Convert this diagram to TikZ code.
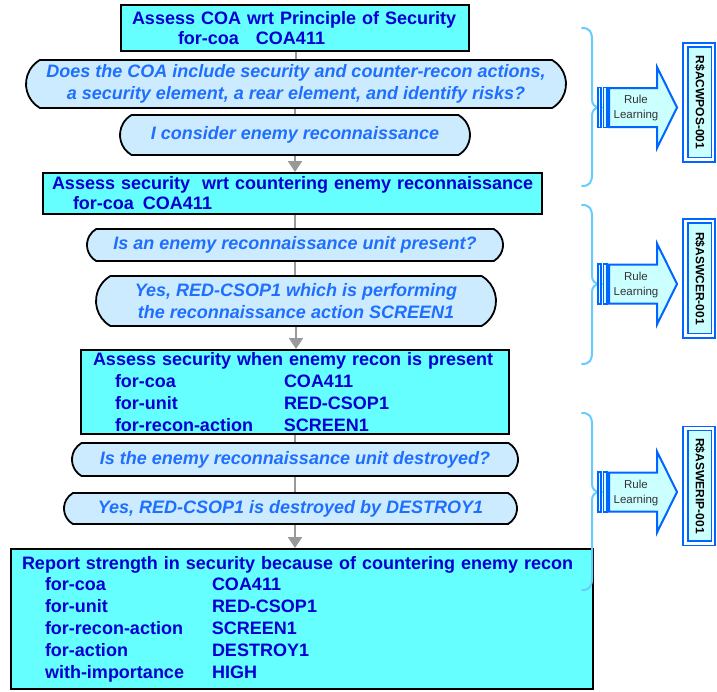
\documentclass[tikz,border=0pt]{standalone}
\usepackage{fontspec}
\setmainfont{Liberation Sans}
\usetikzlibrary{shapes.misc,arrows.meta,calc}
\definecolor{boxfill}{HTML}{66FFFF}
\definecolor{boxtext}{HTML}{0000D0}
\definecolor{qfill}{HTML}{CCEBFF}
\definecolor{qtext}{HTML}{1F6FFF}
\definecolor{conncol}{HTML}{999999}
\definecolor{bracecol}{HTML}{66CCFF}
\definecolor{rulefill}{HTML}{CCFFFF}
\definecolor{ruleline}{HTML}{0066FF}
\tikzset{
  taskbox/.style={draw=black, line width=2pt, fill=boxfill, text=boxtext,
    font=\fontsize{18}{20}\selectfont\bfseries, anchor=north west, inner sep=0pt, align=left},
  qnode/.style={rounded rectangle, rounded rectangle arc length=120, draw=black, line width=1.8pt,
    fill=qfill, text=qtext, font=\fontsize{18}{22}\selectfont\bfseries\itshape, inner sep=0pt, align=center},
  conn/.style={draw=conncol, line width=2pt},
  connarrow/.style={conn, -{Triangle[length=11pt,width=14pt]}, fill=conncol},
  bracestyle/.style={draw=bracecol, line width=2pt, line cap=round},
  barstyle/.style={draw=ruleline, line width=1.2pt, fill=rulefill},
  arrowshape/.style={draw=ruleline, line width=2pt, fill=rulefill, line join=miter},
  rulelabel/.style={font=\fontsize{11.5}{15}\selectfont, text=black!80, align=center, inner sep=0pt},
  ruleouter/.style={draw=ruleline, line width=1.5pt, fill=white},
  ruleinner/.style={draw=ruleline, line width=1.5pt, fill=rulefill},
  ruletext/.style={font=\fontsize{12}{14}\selectfont\bfseries, text=black, rotate=-90, inner sep=0pt},
}
\begin{document}
\begin{tikzpicture}[x=1pt,y=-1pt]
\useasboundingbox (0,0) rectangle (717,691);

% main flow
\node[taskbox, minimum width=348pt, minimum height=46pt, text width=326pt, inner xsep=11pt] (A) at (120,4)
  {\mbox{Assess COA wrt Principle of Security}\\\hspace*{46pt}for-coa\hspace{17pt}COA411};
\node[qnode, minimum width=540pt, minimum height=48pt] (B) at (296,84)
  {Does the COA include security and counter-recon actions,\\a security element, a rear element, and identify risks?};
\node[qnode, minimum width=350pt, minimum height=40pt] (C) at (295,135) {I consider enemy reconnaissance};
\node[taskbox, minimum width=499pt, minimum height=41pt, text width=481pt, inner xsep=9pt] (D) at (42,172)
  {\mbox{Assess security\ \ wrt countering enemy reconnaissance}\\\hspace*{21pt}for-coa\hspace{9pt}COA411};
\node[qnode, minimum width=416pt, minimum height=32pt] (E) at (295,245) {Is an enemy reconnaissance unit present?};
\node[qnode, minimum width=400pt, minimum height=50pt] (F) at (296,301)
  {Yes, RED-CSOP1 which is performing\\the reconnaissance action SCREEN1};
\node[taskbox, minimum width=428pt, minimum height=84pt, text width=404pt, inner xsep=12pt,
      font=\fontsize{18}{22}\selectfont\bfseries] (G) at (80,349)
  {\mbox{Assess security when enemy recon is present}\\
   \hspace*{22pt}\makebox[169pt][l]{for-coa}COA411\\
   \hspace*{22pt}\makebox[169pt][l]{for-unit}RED-CSOP1\\
   \hspace*{22pt}\makebox[169pt][l]{for-recon-action}SCREEN1};
\node[qnode, minimum width=446pt, minimum height=33pt] (H) at (295,459.5) {Is the enemy reconnaissance unit destroyed?};
\node[qnode, minimum width=453pt, minimum height=31pt] (I) at (290.5,508.5) {Yes, RED-CSOP1 is destroyed by DESTROY1};
\node[taskbox, minimum width=570pt, minimum height=140pt, text width=560pt, inner xsep=11pt,
      font=\fontsize{18}{21.8}\selectfont\bfseries] (J) at (10,548)
  {\mbox{Report strength in security because of countering enemy recon}\\
   \hspace*{23pt}\makebox[167pt][l]{for-coa}COA411\\
   \hspace*{23pt}\makebox[167pt][l]{for-unit}RED-CSOP1\\
   \hspace*{23pt}\makebox[167pt][l]{for-recon-action}SCREEN1\\
   \hspace*{23pt}\makebox[167pt][l]{for-action}DESTROY1\\
   \hspace*{23pt}\makebox[167pt][l]{with-importance}HIGH};

% connectors
\draw[conn] (B.north |- A.south) -- (B.north);
\draw[conn] (C.north |- B.south) -- (C.north);
\draw[connarrow] (C.south) -- (C.south |- D.north);
\draw[conn] (E.north |- D.south) -- (E.north);
\draw[conn] (E.south) -- (E.south |- F.north);
\draw[connarrow] (F.south) -- (F.south |- G.north);
\draw[conn] (H.north |- G.south) -- (H.north);
\draw[conn] (H.south) -- (H.south |- I.north);
\coordinate (ib) at (H.south |- I.south);
\draw[connarrow] (ib) -- (ib |- J.north);

% rule learning groups
\foreach \c/\bt/\bb/\rc/\lab [count=\i] in
  {107.5/28/186/102.5/R\$ACWPOS-001, 284/205/364/278.5/R\$ASWCER-001, 492/413/590/486/R\$ASWERIP-001} {
  \draw[bracestyle] (582,\bt) .. controls (590,\bt) and (592,\bt+4) .. (592,\bt+12)
     -- (592,\c-8) .. controls (592,\c-3) and (595,\c) .. (600,\c)
     .. controls (595,\c) and (592,\c+3) .. (592,\c+8)
     -- (592,\bb-12) .. controls (592,\bb-4) and (590,\bb) .. (582,\bb);
  \draw[barstyle] (598,\c-20) rectangle (601,\c+20);
  \draw[barstyle] (603.5,\c-20) rectangle (607,\c+20);
  \draw[arrowshape] (609,\c-19.5) -- (657,\c-19.5) -- (657,\c-40.5) -- (677,\c)
     -- (657,\c+40.5) -- (657,\c+19.5) -- (609,\c+19.5) -- cycle;
  \node[rulelabel] (rl\i) at (636,\c+1) {Rule\\Learning};
  \draw[ruleouter] (683,\rc-59.5) rectangle (715,\rc+59.5);
  \draw[ruleinner] (688,\rc-55.5) rectangle (711.5,\rc+55);
  \node[ruletext] (rb\i) at (699.75,\rc) {\lab};
}
\end{tikzpicture}
\end{document}
